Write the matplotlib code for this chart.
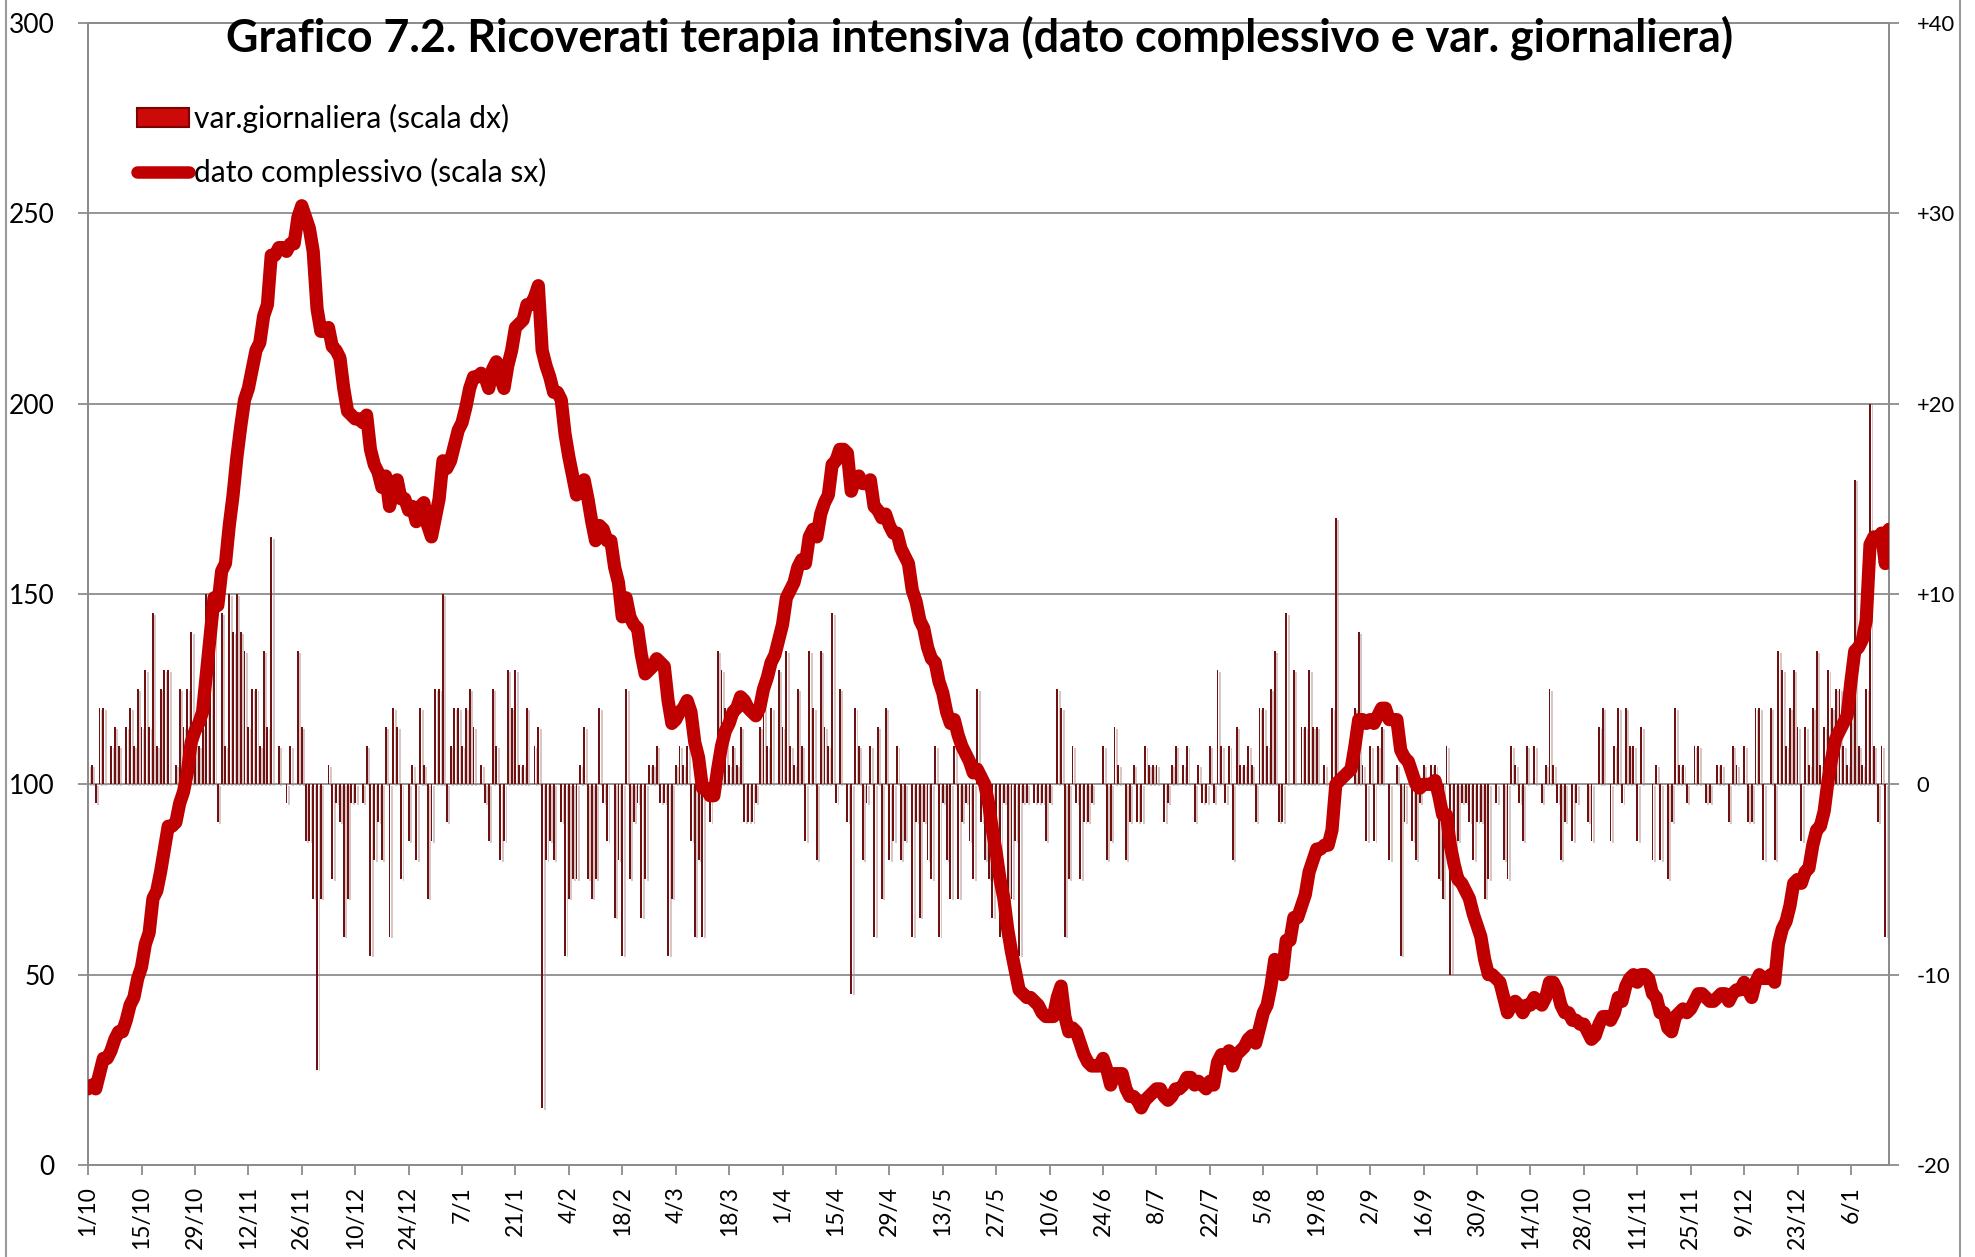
import numpy as np
import pandas as pd
import matplotlib
matplotlib.use('Agg')
import matplotlib.pyplot as plt
import matplotlib.patheffects as pe
from matplotlib.patches import Patch
from matplotlib.lines import Line2D

start_date = '2020-10-01'

# ricoverati in terapia intensiva, dato complessivo (scala sx)
dato_complessivo = [
    20, 21, 20, 24, 28, 28, 30, 33, 35, 35,
    38, 42, 44, 49, 52, 58, 61, 70, 72, 77,
    83, 89, 89, 90, 95, 98, 103, 111, 114, 116,
    119, 129, 139, 149, 147, 156, 158, 168, 176, 186,
    194, 201, 204, 209, 214, 216, 223, 226, 239, 239,
    241, 241, 240, 242, 242, 249, 252, 249, 246, 240,
    225, 219, 219, 220, 215, 214, 212, 204, 198, 197,
    196, 196, 195, 197, 188, 184, 182, 178, 181, 173,
    177, 180, 175, 175, 172, 173, 169, 173, 174, 168,
    165, 170, 175, 185, 183, 185, 189, 193, 195, 199,
    204, 207, 207, 208, 207, 204, 209, 211, 207, 204,
    210, 214, 220, 221, 222, 226, 226, 228, 231, 214,
    210, 207, 203, 203, 201, 192, 186, 181, 176, 177,
    180, 175, 169, 164, 168, 167, 164, 164, 157, 153,
    144, 149, 144, 142, 141, 134, 129, 130, 131, 133,
    132, 131, 122, 116, 117, 119, 120, 122, 119, 111,
    107, 99, 99, 97, 97, 104, 110, 114, 116, 119,
    120, 123, 122, 120, 119, 118, 120, 125, 128, 132,
    134, 138, 142, 149, 151, 153, 157, 159, 158, 165,
    167, 165, 171, 174, 176, 184, 185, 188, 188, 187,
    177, 180, 181, 179, 179, 180, 173, 172, 170, 171,
    168, 166, 166, 162, 160, 158, 151, 148, 143, 141,
    136, 133, 132, 127, 124, 119, 116, 117, 113, 110,
    108, 106, 103, 104, 102, 100, 95, 88, 82, 75,
    70, 62, 56, 51, 46, 45, 44, 44, 43, 42,
    40, 39, 39, 39, 44, 47, 39, 35, 36, 35,
    32, 29, 27, 26, 26, 26, 28, 25, 21, 24,
    24, 24, 20, 18, 18, 17, 15, 17, 18, 19,
    20, 20, 18, 17, 18, 20, 20, 21, 23, 23,
    21, 22, 21, 20, 22, 21, 27, 29, 28, 30,
    26, 29, 30, 31, 33, 34, 32, 36, 40, 42,
    47, 54, 52, 50, 59, 59, 65, 65, 68, 71,
    77, 80, 83, 83, 84, 84, 88, 100, 101, 102,
    103, 104, 110, 117, 117, 116, 117, 116, 118, 120,
    120, 117, 117, 117, 109, 107, 106, 103, 100, 99,
    100, 100, 100, 101, 97, 92, 92, 84, 79, 75,
    74, 72, 70, 66, 63, 60, 54, 50, 50, 49,
    48, 44, 40, 42, 43, 42, 40, 42, 42, 44,
    43, 42, 44, 48, 48, 46, 42, 40, 40, 38,
    38, 37, 37, 35, 33, 34, 37, 39, 39, 38,
    40, 44, 43, 47, 49, 50, 48, 50, 50, 49,
    45, 44, 40, 40, 36, 35, 39, 40, 41, 40,
    41, 43, 45, 45, 44, 43, 43, 44, 45, 45,
    43, 45, 46, 46, 48, 46, 44, 48, 50, 49,
    49, 50, 48, 58, 62, 64, 68, 74, 75, 74,
    77, 78, 84, 88, 89, 93, 101, 107, 112, 114,
    116, 118, 127, 135, 136, 138, 143, 163, 165, 164,
    166, 158, 167,
]

# variazione giornaliera (scala dx)
var_giornaliera = [
    1, 1, -1, 4, 4, 0, 2, 3, 2, 0,
    3, 4, 2, 5, 3, 6, 3, 9, 2, 5,
    6, 6, 0, 1, 5, 3, 5, 8, 3, 2,
    3, 10, 10, 10, -2, 9, 2, 10, 8, 10,
    8, 7, 3, 5, 5, 2, 7, 3, 13, 0,
    2, 0, -1, 2, 0, 7, 3, -3, -3, -6,
    -15, -6, 0, 1, -5, -1, -2, -8, -6, -1,
    -1, 0, -1, 2, -9, -4, -2, -4, 3, -8,
    4, 3, -5, 0, -3, 1, -4, 4, 1, -6,
    -3, 5, 5, 10, -2, 2, 4, 4, 2, 4,
    5, 3, 0, 1, -1, -3, 5, 2, -4, -3,
    6, 4, 6, 1, 1, 4, 0, 2, 3, -17,
    -4, -3, -4, 0, -2, -9, -6, -5, -5, 1,
    3, -5, -6, -5, 4, -1, -3, 0, -7, -4,
    -9, 5, -5, -2, -1, -7, -5, 1, 1, 2,
    -1, -1, -9, -6, 1, 2, 1, 2, -3, -8,
    -4, -8, 0, -2, 0, 7, 6, 4, 1, 2,
    1, 3, -2, -2, -2, -1, 3, 4, 2, 4,
    0, 6, 3, 7, 2, 1, 5, 2, -3, 7,
    4, -4, 7, 3, 2, 9, -1, 5, 0, -2,
    -11, 4, 2, -4, -1, 2, -8, 3, -6, 4,
    -4, -3, 2, -4, -3, 0, -8, -2, -7, -2,
    -4, -5, 2, -8, -1, -4, -6, 2, -6, -2,
    -1, -3, -5, 5, -2, -4, -5, -7, -4, -8,
    -1, -8, -6, -3, -9, -1, -1, 0, -1, -1,
    -1, -3, -1, 0, 5, 4, -8, -5, 2, -1,
    -5, -2, -2, -1, 0, 0, 2, -4, -3, 3,
    1, 0, -4, -2, 1, -2, -2, 2, 1, 1,
    1, 0, -2, -1, 1, 2, 0, 1, 2, 0,
    -2, 1, -1, -1, 2, -1, 6, 2, -1, 2,
    -4, 3, 1, 1, 2, 1, -2, 4, 4, 2,
    5, 7, -2, -2, 9, 0, 6, 0, 3, 3,
    6, 3, 3, 0, 1, 0, 4, 14, 0, 0,
    0, 0, 4, 8, 1, -3, 2, -3, 2, 3,
    0, -4, 0, 1, -9, -2, 0, -3, -4, -1,
    1, 0, 1, 1, -5, -6, 2, -10, -4, -3,
    -1, -1, -2, -4, -2, -2, -6, -5, 0, -1,
    0, -4, -5, 2, 1, -1, -3, 2, 0, 2,
    0, -1, 1, 5, 1, -1, -4, -2, 0, -3,
    -1, 0, 0, -2, -3, 0, 3, 4, 0, -3,
    2, 4, -1, 4, 2, 2, -3, 3, 0, 0,
    -4, 1, -4, 0, -5, -2, 4, 1, 1, -1,
    0, 2, 2, 0, -1, -1, 0, 1, 1, 0,
    -2, 2, 1, 0, 2, -2, -2, 4, 4, -4,
    0, 4, -4, 7, 6, 2, 4, 6, 3, -3,
    3, 1, 4, 7, 1, 3, 6, 4, 5, 5,
    2, 1, 7, 16, 2, 1, 5, 20, 2, -2,
    2, -8, 10,
]

xtick_labels = ['1/10', '15/10', '29/10', '12/11', '26/11', '10/12', '24/12',
                '7/1', '21/1', '4/2', '18/2', '4/3', '18/3', '1/4', '15/4',
                '29/4', '13/5', '27/5', '10/6', '24/6', '8/7', '22/7', '5/8',
                '19/8', '2/9', '16/9', '30/9', '14/10', '28/10', '11/11',
                '25/11', '9/12', '23/12', '6/1']
left_ticks = [0, 50, 100, 150, 200, 250, 300]
right_ticks = [-20, -10, 0, 10, 20, 30, 40]
right_labels = ['-20', '-10', '0', '+10', '+20', '+30', '+40']

title = 'Grafico 7.2. Ricoverati terapia intensiva (dato complessivo e var. giornaliera)'
label_bar = 'var.giornaliera (scala dx)'
label_line = 'dato complessivo (scala sx)'

RED = '#c00000'
BAR = '#701010'
GRAY = '#8c8c8c'
FONT = 'Lato'

days = pd.date_range(start_date, periods=len(dato_complessivo), freq='D')

fig = plt.figure(figsize=(19.75, 12.57), dpi=100)
fig.patch.set_facecolor('white')
ax = fig.add_axes([0.0446, 0.0732, 0.9119, 0.9085])
ax2 = ax.twinx()

# bars on the right scale, underneath
bars = ax2.bar(days, var_giornaliera, width=0.5, color=BAR, linewidth=0, zorder=2)
for b in bars:
    b.set_path_effects([pe.SimplePatchShadow(offset=(1.8, -1.2), shadow_rgbFace='#b09090', alpha=0.5),
                        pe.Normal()])
ax2.set_ylim(-20, 40)
ax2.set_yticks(right_ticks)
ax2.set_yticklabels(right_labels, family=FONT, fontsize=15.8)
ax2.yaxis.grid(True, color=GRAY, lw=1.3)
ax2.set_axisbelow(True)
ax2.tick_params(axis='y', direction='out', length=7, width=1.3, color=GRAY, pad=13)
ax2.tick_params(axis='x', which='both', length=0, labelbottom=False)

# line on the left scale, on top
ax.set_zorder(ax2.get_zorder() + 1)
ax.patch.set_visible(False)
ax.plot(days, dato_complessivo, color=RED, lw=9.5, solid_joinstyle='round',
        solid_capstyle='round', zorder=3)
ax.set_ylim(0, 300)
ax.set_xlim(days[0], days[-1])
ax.set_yticks(left_ticks)
ax.set_yticklabels([str(v) for v in left_ticks], family=FONT, fontsize=19)
ax.set_xticks(days[::14])
ax.set_xticklabels(xtick_labels, rotation=90, family=FONT, fontsize=16.4)
ax.tick_params(axis='y', direction='out', length=7, width=1.3, color=GRAY, pad=17)
ax.tick_params(axis='x', direction='out', length=7, width=1.3, color=GRAY, pad=8)

for a in (ax, ax2):
    for s in a.spines.values():
        s.set_color(GRAY)
        s.set_linewidth(1.3)

# legend
handles = [Patch(facecolor='#cc0a0a', edgecolor='#800000', linewidth=1.5),
           Line2D([0], [0], color=RED, lw=9, solid_capstyle='round')]
leg = fig.legend(handles, [label_bar, label_line], loc='upper left',
                 bbox_to_anchor=(0.0694, 0.9172), bbox_transform=fig.transFigure,
                 frameon=False, prop={'family': FONT, 'size': 21.6},
                 handlelength=1.73, handleheight=0.63, handletextpad=0.17,
                 labelspacing=0.82, borderaxespad=0, borderpad=0)

t = fig.text(0.496, 0.970, title, ha='center', va='center', fontsize=28,
             fontweight='bold', family=FONT, zorder=10)
fig.canvas.draw()
w = t.get_window_extent(fig.canvas.get_renderer()).width
t.set_fontsize(t.get_fontsize() * 1508 / w)

# outer frame of the chart area
for xf in (0.003, 0.9924):
    fig.add_artist(Line2D([xf, xf], [0, 1], transform=fig.transFigure, color='#9a9a9a', lw=1.5))

fig.savefig('out.png', dpi=100, facecolor='white')
